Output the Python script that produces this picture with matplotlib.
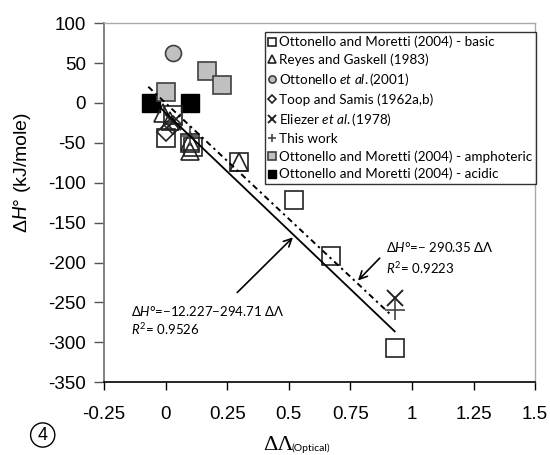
import numpy as np
import matplotlib
matplotlib.use("Agg")
import matplotlib.pyplot as plt
from matplotlib.ticker import FormatStrFormatter

plt.rcParams['axes.unicode_minus'] = False
plt.rcParams['mathtext.fontset'] = 'custom'
plt.rcParams['mathtext.it'] = 'Lato:italic'
plt.rcParams['mathtext.rm'] = 'Lato'

# data
basic_x = [0.0, 0.03, 0.10, 0.11, 0.30, 0.52, 0.67, 0.93]
basic_y = [-44, -15, -50, -55, -74, -122, -192, -307]
reyes_x = [-0.01, 0.02, 0.10, 0.10, 0.30]
reyes_y = [-12, -22, -48, -60, -74]
ott01_x = [0.03]
ott01_y = [63]
toop_x = [0.0, 0.03]
toop_y = [-36, -28]
eliezer_x = [0.03, 0.93]
eliezer_y = [-24, -245]
thiswork_x = [0.10, 0.93]
thiswork_y = [-42, -260]
amph_x = [0.0, 0.17, 0.23]
amph_y = [14, 40, 23]
acid_x = [-0.06, 0.10]
acid_y = [0, 0]

fit1_a, fit1_b = -12.227, -294.71
fit1_range = [-0.04, 0.93]
fit2_b = -290.35
fit2_range = [-0.07, 0.92]

fig = plt.figure(figsize=(5.5, 4.55), dpi=100)
ax = fig.add_axes([0.189, 0.160, 0.784, 0.789])

gray = '#c0c0c0'
ms = 12.5
ax.plot(acid_x, acid_y, 's', ms=13, mfc='black', mec='black', ls='none',
        label='Ottonello and Moretti (2004) - acidic', zorder=2)
ax.plot(amph_x, amph_y, 's', ms=12.5, mfc=gray, mec='#404040', mew=1.2, ls='none',
        label='Ottonello and Moretti (2004) - amphoteric', zorder=2)
ax.plot(ott01_x, ott01_y, 'o', ms=11.5, mfc=gray, mec='#404040', mew=1.2, ls='none',
        label=r'Ottonello $\it{et\ al.}$(2001)', zorder=2)
ax.plot(basic_x, basic_y, 's', ms=ms, mfc='none', mec='#222222', mew=1.2, ls='none',
        label='Ottonello and Moretti (2004) - basic', zorder=3)
ax.plot(reyes_x, reyes_y, '^', ms=13, mfc='none', mec='#222222', mew=1.2, ls='none',
        label='Reyes and Gaskell (1983)', zorder=3)
ax.plot(toop_x, toop_y, 'D', ms=9, mfc='none', mec='#222222', mew=1.2, ls='none',
        label='Toop and Samis (1962a,b)', zorder=3)
ax.plot(eliezer_x, eliezer_y, 'x', ms=12, mec='#222222', mew=1.4, ls='none',
        label=r'Eliezer $\it{et\ al.}$(1978)', zorder=3)
ax.plot(thiswork_x, thiswork_y, '+', ms=14, mec='#444444', mew=1.2, ls='none',
        label='This work', zorder=3)

x1 = np.array(fit1_range)
ax.plot(x1, fit1_a + fit1_b * x1, '-', color='black', lw=1.3, zorder=4)
x2 = np.array(fit2_range)
ax.plot(x2, fit2_b * x2, color='black', lw=1.4, ls=(0, (3, 2, 1.2, 2)), zorder=4)

ax.set_xlim(-0.25, 1.5)
ax.set_ylim(-350, 100)
ax.set_xticks(np.arange(-0.25, 1.51, 0.25))
ax.set_yticks(np.arange(-350, 101, 50))
ax.xaxis.set_major_formatter(FormatStrFormatter('%g'))
ax.tick_params(axis='x', direction='out', length=6, width=1, pad=11,
               labelsize=13.5, labelfontfamily='Liberation Sans')
ax.tick_params(axis='y', direction='out', length=7, width=1, pad=6,
               labelsize=13.5, labelfontfamily='Liberation Sans', color='#555555')
ax.spines['bottom'].set_color('black')
ax.spines['bottom'].set_linewidth(1.2)
ax.spines['left'].set_color('#777777')
ax.spines['left'].set_linewidth(1.3)
for s in ['top', 'right']:
    ax.spines[s].set_color('#aaaaaa')
    ax.spines[s].set_linewidth(1)

# legend in the original order
handles, labels = ax.get_legend_handles_labels()
order = [3, 4, 2, 5, 6, 7, 1, 0]
leg = ax.legend([handles[i] for i in order], [labels[i] for i in order],
                loc='upper left', bbox_to_anchor=(0.3735, 0.976), borderaxespad=0,
                markerscale=0.45, handlelength=0.5, handletextpad=0.25,
                labelspacing=0.38, borderpad=0.3, fancybox=False,
                prop={'family': ['Lato', 'DejaVu Sans'], 'size': 9.7})
leg.get_frame().set_edgecolor('black')
leg.get_frame().set_linewidth(1)

fam = ['Lato', 'DejaVu Sans']
ax.annotate('', xy=(0.525, -166), xytext=(0.283, -240),
            arrowprops=dict(arrowstyle='->', color='black', lw=1.2,
                            mutation_scale=14))
ax.text(-0.14, -261, 'Δ$\\it{H}$°=−12.227−294.71 ΔΛ', fontsize=9.5, family=fam,
        va='center', ha='left')
ax.text(-0.14, -283, '$\\it{R}^2$= 0.9526', fontsize=9.5, family=fam,
        va='center', ha='left')

ax.annotate('', xy=(0.773, -225), xytext=(0.877, -192),
            arrowprops=dict(arrowstyle='->', color='black', lw=1.2,
                            mutation_scale=14))
ax.text(0.895, -180, 'Δ$\\it{H}$°=− 290.35 ΔΛ', fontsize=9.5, family=fam,
        va='center', ha='left')
ax.text(0.895, -207, '$\\it{R}^2$= 0.9223', fontsize=9.5, family=fam,
        va='center', ha='left')

fig.text(22 / 550, 1 - 172 / 455, 'Δ$\\it{H}$° (kJ/mole)', rotation=90,
         fontsize=14, family=['Liberation Sans', 'DejaVu Sans'],
         ha='center', va='center')
fig.text(263 / 550, 1 - 445 / 455, 'ΔΛ', fontsize=16, family='Liberation Serif',
         ha='left', va='center')
fig.text(291 / 550, 1 - 448 / 455, '(Optical)', fontsize=7.5, family=fam,
         ha='left', va='center')

fig.text(42.7 / 550, 1 - 435 / 455, '4', fontsize=13, family='Liberation Sans',
         ha='center', va='center',
         bbox=dict(boxstyle='circle,pad=0.2', fc='white', ec='black', lw=1))

fig.savefig('out.png', dpi=100)
